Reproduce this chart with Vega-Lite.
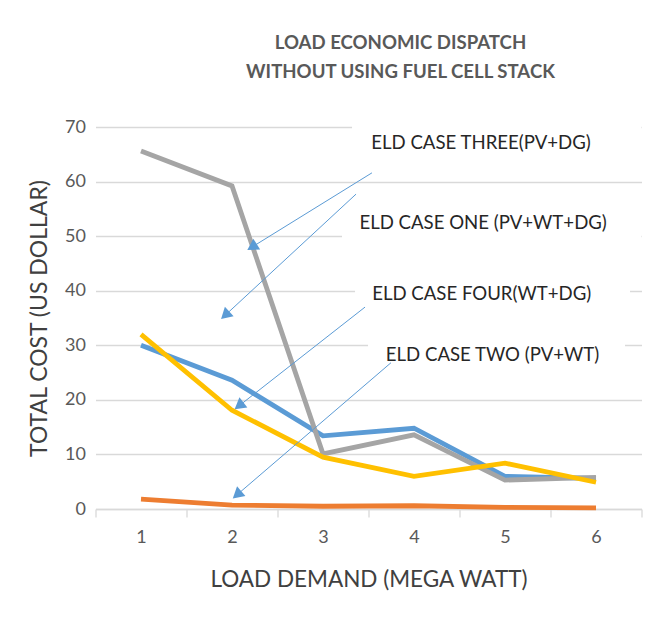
{
  "$schema": "https://vega.github.io/schema/vega-lite/v6.json",
  "width": 546,
  "height": 382,
  "autosize": {"type": "none"},
  "padding": {"left": 95.5, "top": 127, "right": 4.5, "bottom": 113},
  "background": "white",
  "config": {"view": {"stroke": null}, "font": "Lato"},
  "title": {
    "text": ["LOAD ECONOMIC DISPATCH", "WITHOUT USING FUEL CELL STACK"],
    "fontSize": 18.6,
    "fontWeight": "bold",
    "color": "#595959",
    "anchor": "middle",
    "dx": 32,
    "offset": 36,
    "lineHeight": 29,
    "font": "Lato"
  },
  "datasets": {
    "series": [
      {"series": "ELD CASE ONE", "x": 1, "y": 30.0},
      {"series": "ELD CASE ONE", "x": 2, "y": 23.6},
      {"series": "ELD CASE ONE", "x": 3, "y": 13.4},
      {"series": "ELD CASE ONE", "x": 4, "y": 14.8},
      {"series": "ELD CASE ONE", "x": 5, "y": 6.0},
      {"series": "ELD CASE ONE", "x": 6, "y": 5.6},
      {"series": "ELD CASE TWO", "x": 1, "y": 1.8},
      {"series": "ELD CASE TWO", "x": 2, "y": 0.7},
      {"series": "ELD CASE TWO", "x": 3, "y": 0.5},
      {"series": "ELD CASE TWO", "x": 4, "y": 0.6},
      {"series": "ELD CASE TWO", "x": 5, "y": 0.3},
      {"series": "ELD CASE TWO", "x": 6, "y": 0.2},
      {"series": "ELD CASE THREE", "x": 1, "y": 65.6},
      {"series": "ELD CASE THREE", "x": 2, "y": 59.2},
      {"series": "ELD CASE THREE", "x": 3, "y": 10.1},
      {"series": "ELD CASE THREE", "x": 4, "y": 13.6},
      {"series": "ELD CASE THREE", "x": 5, "y": 5.3},
      {"series": "ELD CASE THREE", "x": 6, "y": 5.8},
      {"series": "ELD CASE FOUR", "x": 1, "y": 32.0},
      {"series": "ELD CASE FOUR", "x": 2, "y": 18.1},
      {"series": "ELD CASE FOUR", "x": 3, "y": 9.5},
      {"series": "ELD CASE FOUR", "x": 4, "y": 6.0},
      {"series": "ELD CASE FOUR", "x": 5, "y": 8.4},
      {"series": "ELD CASE FOUR", "x": 6, "y": 4.9}
    ],
    "labels": [
      {"label": "ELD CASE THREE(PV+DG)", "x": 3.53, "y": 67.1},
      {"label": "ELD CASE ONE (PV+WT+DG)", "x": 3.40, "y": 52.4},
      {"label": "ELD CASE FOUR(WT+DG)", "x": 3.54, "y": 39.4},
      {"label": "ELD CASE TWO (PV+WT)", "x": 3.69, "y": 28.2}
    ],
    "boxes": [
      {"x": 3.319, "x2": 6.5, "y": 61.8, "y2": 70.6},
      {"x": 3.209, "x2": 6.5, "y": 47.5, "y2": 55.7},
      {"x": 3.352, "x2": 6.374, "y": 35.5, "y2": 43.8},
      {"x": 3.495, "x2": 6.319, "y": 24.6, "y2": 31.9}
    ],
    "arrows": [
      {"x": 3.538, "y": 61.6, "x2": 2.22, "y2": 48.0},
      {"x": 3.363, "y": 57.7, "x2": 1.925, "y2": 35.5},
      {"x": 3.462, "y": 37.0, "x2": 2.077, "y2": 18.9},
      {"x": 3.747, "y": 26.8, "x2": 2.055, "y2": 2.6}
    ]
  },
  "encoding": {
    "x": {
      "field": "x",
      "type": "quantitative",
      "scale": {"domain": [0.5, 6.5], "nice": false, "zero": false},
      "axis": {
        "title": "LOAD DEMAND (MEGA WATT)",
        "values": [0.5, 1, 1.5, 2, 2.5, 3, 3.5, 4, 4.5, 5, 5.5, 6, 6.5],
        "labelExpr": "datum.value % 1 === 0 ? format(datum.value, 'd') : ''",
        "labelOverlap": false,
        "labelFlush": false,
        "grid": false,
        "domainColor": "#d9d9d9",
        "domainWidth": 1.3,
        "tickColor": "#d9d9d9",
        "tickWidth": 1.3,
        "tickSize": 8,
        "tickOpacity": {"condition": {"test": "datum.value % 1 !== 0", "value": 1}, "value": 0},
        "labelFontSize": 18,
        "labelColor": "#595959",
        "labelPadding": 11,
        "titleFontSize": 22.5,
        "titleFontWeight": "normal",
        "titleColor": "#404040",
        "titlePadding": 22
      }
    },
    "y": {
      "field": "y",
      "type": "quantitative",
      "scale": {"domain": [0, 70], "nice": false},
      "axis": {
        "title": "TOTAL COST (US DOLLAR)",
        "values": [0, 10, 20, 30, 40, 50, 60, 70],
        "grid": true,
        "gridColor": "#d9d9d9",
        "gridWidth": 1.3,
        "domain": false,
        "ticks": false,
        "labelFontSize": 18,
        "labelColor": "#595959",
        "labelPadding": 10,
        "titleFontSize": 23,
        "titleFontWeight": "normal",
        "titleColor": "#404040",
        "titlePadding": 13
      }
    }
  },
  "layer": [
    {
      "data": {"name": "boxes"},
      "mark": {"type": "rect", "fill": "white"},
      "encoding": {"x2": {"field": "x2"}, "y2": {"field": "y2"}}
    },
    {
      "data": {"name": "series"},
      "mark": {"type": "line", "strokeWidth": 4.8},
      "encoding": {
        "color": {
          "field": "series",
          "type": "nominal",
          "scale": {
            "domain": ["ELD CASE ONE", "ELD CASE TWO", "ELD CASE THREE", "ELD CASE FOUR"],
            "range": ["#5b9bd5", "#ed7d31", "#a5a5a5", "#ffc000"]
          },
          "legend": null
        }
      }
    },
    {
      "data": {"name": "arrows"},
      "mark": {"type": "rule", "color": "#5b9bd5", "strokeWidth": 1},
      "encoding": {"x2": {"field": "x2"}, "y2": {"field": "y2"}}
    },
    {
      "data": {"name": "arrows"},
      "transform": [
        {"calculate": "(atan2((datum.x2 - datum.x) * 91, (datum.y2 - datum.y) * 5.457) * 180 / PI + 360) % 360", "as": "ang"}
      ],
      "mark": {"type": "point", "shape": "triangle-up", "filled": true, "color": "#5b9bd5", "size": 165, "opacity": 1},
      "encoding": {
        "x": {"field": "x2", "type": "quantitative"},
        "y": {"field": "y2", "type": "quantitative"},
        "angle": {"field": "ang", "type": "quantitative", "scale": null}
      }
    },
    {
      "data": {"name": "labels"},
      "mark": {"type": "text", "align": "left", "baseline": "middle", "fontSize": 18.6, "color": "#262626", "font": "Lato"},
      "encoding": {"text": {"field": "label"}}
    }
  ]
}
